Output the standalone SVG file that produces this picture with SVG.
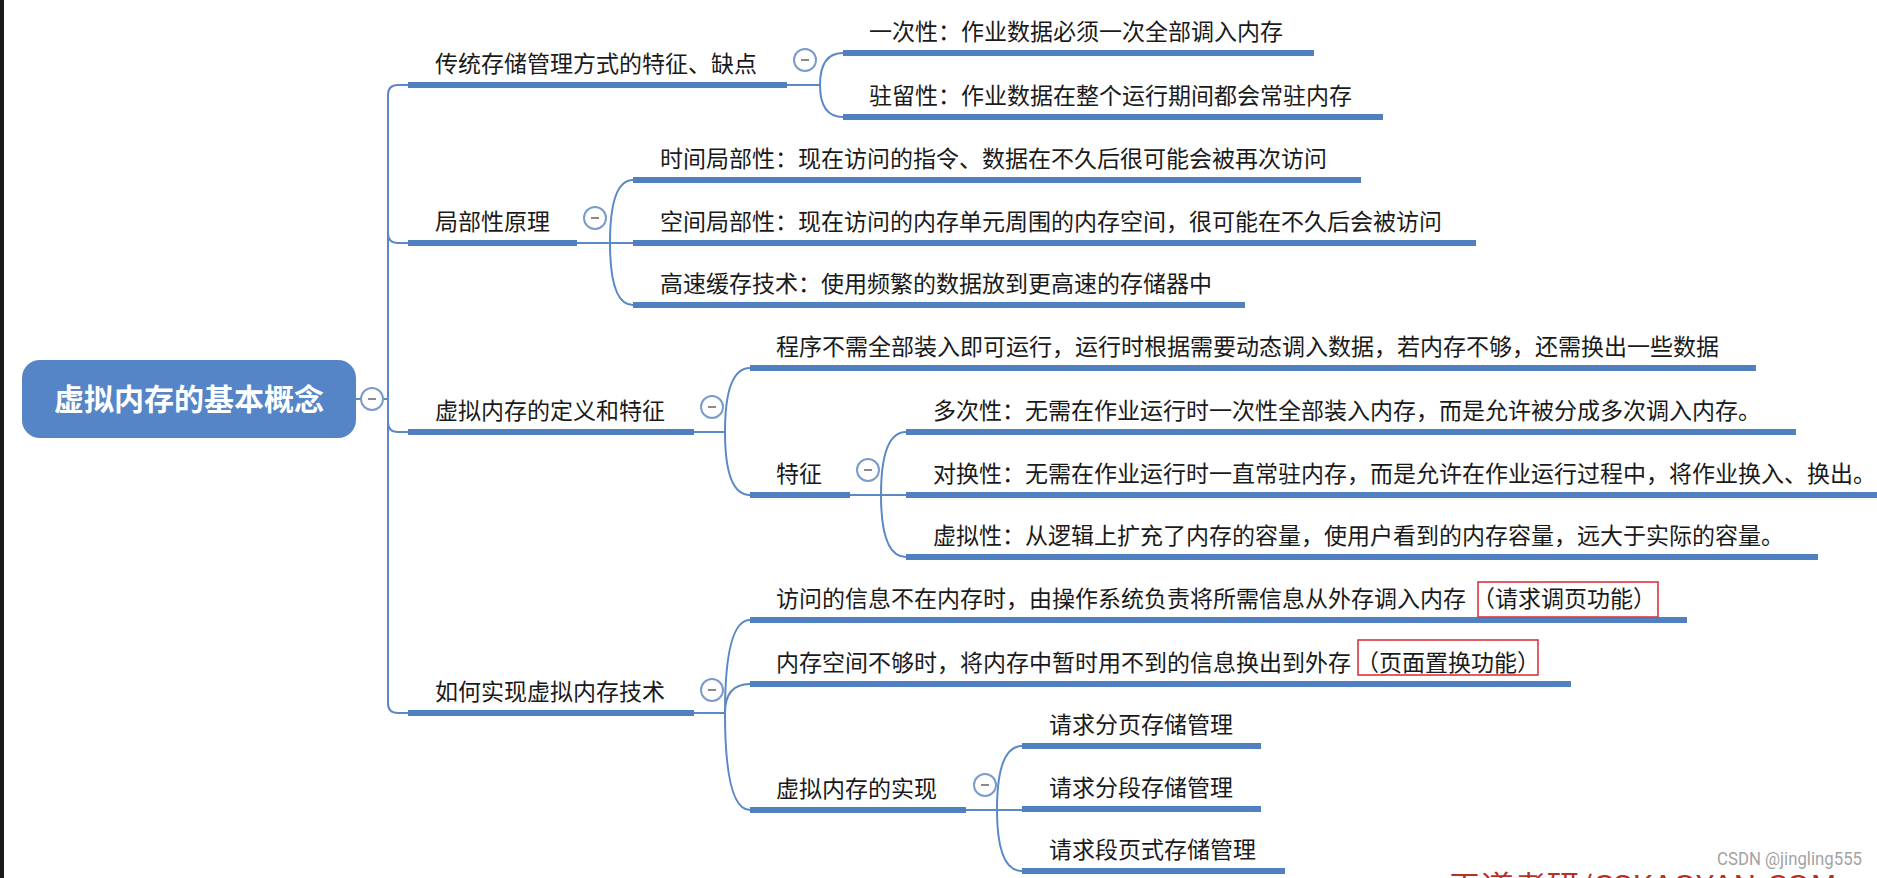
<svg xmlns="http://www.w3.org/2000/svg" width="1877" height="878" viewBox="0 0 1877 878">
<style>
.t{font-family:"Noto Sans CJK SC","Noto Sans",sans-serif;font-size:23px;fill:#1a1a1a}
.root{font-family:"Noto Sans CJK SC","Noto Sans",sans-serif;font-size:30px;font-weight:bold;fill:#ffffff}
.ul{stroke:#5180c1;stroke-width:6;fill:none}
.c{stroke:#5b88c6;stroke-width:2;fill:none}
.tog circle{fill:#ffffff;stroke:#7b9bcb;stroke-width:2}
.tog line{stroke:#8a8a8a;stroke-width:2}
.red{fill:none;stroke:#d9363e;stroke-width:1.6}
</style>
<defs>
<g id="minus" class="tog"><circle cx="0" cy="0" r="11"/><line x1="-4" y1="0" x2="4" y2="0"/></g>
</defs>
<rect x="0" y="0" width="1877" height="878" fill="#ffffff"/>
<rect x="0" y="0" width="4" height="878" fill="#1a1a1a"/>

<g id="connectors">
<path class="c" d="M356,399 H388"/>
<path class="c" d="M408,85 H398 Q388,85 388,95 V703 Q388,713 398,713 H408"/>
<path class="c" d="M388,233 Q388,243 398,243 H408"/>
<path class="c" d="M388,422 Q388,432 398,432 H408"/>
<path class="c" d="M787,85 H820 M820,85 Q820,53 843,53 M820,85 Q820,117 843,117"/>
<path class="c" d="M577,243 H633 M610,243 Q610,180 633,180 M610,243 Q610,305 633,305"/>
<path class="c" d="M694,432 H725 M725,432 Q725,368 750,368 M725,432 Q725,495 750,495"/>
<path class="c" d="M850,495 H906 M881,495 Q881,432 906,432 M881,495 Q881,557 906,557"/>
<path class="c" d="M694,713 H725 M725,713 Q725,620 750,620 M725,713 Q725,684 750,684 M725,713 Q725,810 750,810"/>
<path class="c" d="M966,810 H1022 M997,810 Q997,746 1022,746 M997,810 Q997,871 1022,871"/>
</g>

<g id="root">
<rect x="22" y="360" width="334" height="78" rx="18" fill="#5585c6"/>
<text class="root" x="189" y="410" text-anchor="middle">虚拟内存的基本概念</text>
<use href="#minus" x="372" y="399"/>
</g>

<g id="n1">
<line class="ul" x1="408" y1="85" x2="787" y2="85"/>
<text class="t" x="435" y="72">传统存储管理方式的特征、缺点</text>
<use href="#minus" x="805" y="60"/>
</g>
<g id="n1a">
<line class="ul" x1="843" y1="53" x2="1314" y2="53"/>
<text class="t" x="869" y="40">一次性：作业数据必须一次全部调入内存</text>
</g>
<g id="n1b">
<line class="ul" x1="843" y1="117" x2="1383" y2="117"/>
<text class="t" x="869" y="104">驻留性：作业数据在整个运行期间都会常驻内存</text>
</g>

<g id="n2">
<line class="ul" x1="408" y1="243" x2="577" y2="243"/>
<text class="t" x="435" y="230">局部性原理</text>
<use href="#minus" x="595" y="218"/>
</g>
<g id="n2a">
<line class="ul" x1="633" y1="180" x2="1361" y2="180"/>
<text class="t" x="660" y="167">时间局部性：现在访问的指令、数据在不久后很可能会被再次访问</text>
</g>
<g id="n2b">
<line class="ul" x1="633" y1="243" x2="1476" y2="243"/>
<text class="t" x="660" y="230">空间局部性：现在访问的内存单元周围的内存空间，很可能在不久后会被访问</text>
</g>
<g id="n2c">
<line class="ul" x1="633" y1="305" x2="1245" y2="305"/>
<text class="t" x="660" y="292">高速缓存技术：使用频繁的数据放到更高速的存储器中</text>
</g>

<g id="n3">
<line class="ul" x1="408" y1="432" x2="694" y2="432"/>
<text class="t" x="435" y="419">虚拟内存的定义和特征</text>
<use href="#minus" x="712" y="407"/>
</g>
<g id="n3a">
<line class="ul" x1="750" y1="368" x2="1756" y2="368"/>
<text class="t" x="776" y="355">程序不需全部装入即可运行，运行时根据需要动态调入数据，若内存不够，还需换出一些数据</text>
</g>
<g id="n3b">
<line class="ul" x1="750" y1="495" x2="850" y2="495"/>
<text class="t" x="776" y="482">特征</text>
<use href="#minus" x="868" y="470"/>
</g>
<g id="n3b1">
<line class="ul" x1="906" y1="432" x2="1796" y2="432"/>
<text class="t" x="933" y="419">多次性：无需在作业运行时一次性全部装入内存，而是允许被分成多次调入内存。</text>
</g>
<g id="n3b2">
<line class="ul" x1="906" y1="495" x2="1877" y2="495"/>
<text class="t" x="933" y="482">对换性：无需在作业运行时一直常驻内存，而是允许在作业运行过程中，将作业换入、换出。</text>
</g>
<g id="n3b3">
<line class="ul" x1="906" y1="557" x2="1818" y2="557"/>
<text class="t" x="933" y="544">虚拟性：从逻辑上扩充了内存的容量，使用户看到的内存容量，远大于实际的容量。</text>
</g>

<g id="n4">
<line class="ul" x1="408" y1="713" x2="694" y2="713"/>
<text class="t" x="435" y="700">如何实现虚拟内存技术</text>
<use href="#minus" x="712" y="690"/>
</g>
<g id="n4a">
<line class="ul" x1="750" y1="620" x2="1687" y2="620"/>
<text class="t" x="776" y="607">访问的信息不在内存时，由操作系统负责将所需信息从外存调入内存<tspan x="1472">（请求调页功能）</tspan></text>
<rect class="red" x="1478" y="582" width="180" height="35"/>
</g>
<g id="n4b">
<line class="ul" x1="750" y1="684" x2="1571" y2="684"/>
<text class="t" x="776" y="671">内存空间不够时，将内存中暂时用不到的信息换出到外存<tspan x="1356">（页面置换功能）</tspan></text>
<rect class="red" x="1358" y="640" width="180" height="35"/>
</g>
<g id="n4c">
<line class="ul" x1="750" y1="810" x2="966" y2="810"/>
<text class="t" x="776" y="797">虚拟内存的实现</text>
<use href="#minus" x="985" y="785"/>
</g>
<g id="n4c1">
<line class="ul" x1="1022" y1="746" x2="1261" y2="746"/>
<text class="t" x="1049" y="733">请求分页存储管理</text>
</g>
<g id="n4c2">
<line class="ul" x1="1022" y1="809" x2="1261" y2="809"/>
<text class="t" x="1049" y="796">请求分段存储管理</text>
</g>
<g id="n4c3">
<line class="ul" x1="1022" y1="871" x2="1285" y2="871"/>
<text class="t" x="1049" y="858">请求段页式存储管理</text>
</g>

<text x="1717" y="865" font-family="Roboto,'Liberation Sans',sans-serif" font-size="18" fill="#a3a3a3" textLength="145" lengthAdjust="spacingAndGlyphs">CSDN @jingling555</text>
<text x="1448" y="896" font-family="'Noto Sans CJK SC','Liberation Sans',sans-serif" font-size="28" fill="#b5321f" textLength="389" lengthAdjust="spacingAndGlyphs">王道考研/CSKAOYAN.COM</text>
</svg>
